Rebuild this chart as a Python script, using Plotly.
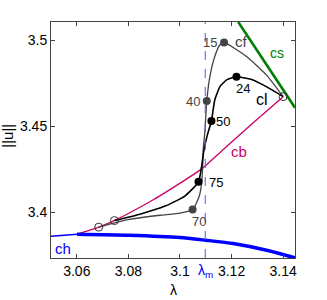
import plotly.graph_objects as go

# ---- data ----
cf_x = [3.0685, 3.0799, 3.0922, 3.1000, 3.1049, 3.1074, 3.1084, 3.1088, 3.1090, 3.1097,
        3.1104, 3.1116, 3.1135, 3.1155, 3.1171, 3.1258, 3.1335, 3.1400]
cf_y = [3.3915, 3.3958, 3.3984, 3.3996, 3.4017, 3.4091, 3.4169, 3.4265, 3.4362, 3.4478,
        3.4647, 3.4788, 3.4905, 3.4973, 3.4986, 3.4905, 3.4798, 3.4672]

cl_x = [3.0746, 3.0845, 3.0942, 3.1019, 3.1072, 3.1083, 3.1093, 3.1106, 3.1122, 3.1135,
        3.1155, 3.1181, 3.1219, 3.1283, 3.1335, 3.1400]
cl_y = [3.3953, 3.3990, 3.4037, 3.4095, 3.4178, 3.4258, 3.4362, 3.4449, 3.4531, 3.4653,
        3.4730, 3.4769, 3.4787, 3.4769, 3.4730, 3.4672]

cb_x = [3.0601, 3.0685, 3.0745, 3.0900, 3.1019, 3.1072, 3.1098, 3.1167, 3.1284, 3.1400]
cb_y = [3.3874, 3.3915, 3.3953, 3.4077, 3.4188, 3.4240, 3.4270, 3.4364, 3.4521, 3.4672]

cs_x = [3.1226, 3.1446]
cs_y = [3.5105, 3.4608]

ch_thin_x = [3.0500, 3.0601]
ch_thin_y = [3.3862, 3.3874]
ch_x = [3.0601, 3.0800, 3.1000, 3.1100, 3.1206, 3.1336, 3.1447]
ch_y = [3.3874, 3.3868, 3.3855, 3.3839, 3.3820, 3.3781, 3.3736]

lambda_m = 3.1098

cf_pts_x = [3.1171, 3.1104, 3.1049]
cf_pts_y = [3.4986, 3.4647, 3.4017]
cf_pts_lbl = ["15", "40", "70"]
cl_pts_x = [3.1219, 3.1122, 3.1072]
cl_pts_y = [3.4787, 3.4531, 3.4178]
cl_pts_lbl = ["24", "50", "75"]
open_x = [3.0685, 3.0746, 3.1400]
open_y = [3.3915, 3.3953, 3.4672]

x_ticks = [3.06, 3.08, 3.10, 3.12, 3.14]
x_ticktext = ["3.06", "3.08", "3.1", "3.12", "3.14"]
y_ticks = [3.40, 3.45, 3.50]
y_ticktext = ["3.4", "3.45", "3.5"]

FONT = "Liberation Sans, Arial, sans-serif"

fig = go.Figure()
fig.add_trace(go.Scatter(x=cb_x, y=cb_y, mode="lines", line=dict(color="#cc0066", width=1.3, shape="spline", smoothing=0.6)))
fig.add_trace(go.Scatter(x=cs_x, y=cs_y, mode="lines", line=dict(color="#008000", width=2.6)))
fig.add_trace(go.Scatter(x=ch_thin_x, y=ch_thin_y, mode="lines", line=dict(color="#0000ff", width=1.5)))
fig.add_trace(go.Scatter(x=ch_x, y=ch_y, mode="lines", line=dict(color="#0000ff", width=3.5, shape="spline", smoothing=0.6)))
fig.add_trace(go.Scatter(x=cf_x, y=cf_y, mode="lines", line=dict(color="#444444", width=1.3, shape="spline", smoothing=0.5)))
fig.add_trace(go.Scatter(x=cl_x, y=cl_y, mode="lines", line=dict(color="#000000", width=1.6, shape="spline", smoothing=0.5)))
fig.add_trace(go.Scatter(x=cf_pts_x, y=cf_pts_y, mode="markers", marker=dict(color="#444444", size=8)))
fig.add_trace(go.Scatter(x=cl_pts_x, y=cl_pts_y, mode="markers", marker=dict(color="#000000", size=8)))
fig.add_trace(go.Scatter(x=open_x, y=open_y, mode="markers",
                         marker=dict(color="rgba(0,0,0,0)", size=8, line=dict(color="#333333", width=1))))

fig.add_shape(type="line", x0=lambda_m, x1=lambda_m, y0=0, y1=1, xref="x", yref="paper",
              line=dict(color="#5555ff", width=1, dash="dash"))

anns = [
    dict(x=3.1205, y=3.4990, text="cf", color="#444444", size=15, xanchor="left"),
    dict(x=3.1152, y=3.4986, text="15", color="#444444", size=13, xanchor="right"),
    dict(x=3.1376, y=3.4926, text="cs", color="#008000", size=14, xanchor="center"),
    dict(x=3.1245, y=3.4717, text="24", color="#000000", size=13, xanchor="center"),
    dict(x=3.1317, y=3.4653, text="cl", color="#000000", size=16, xanchor="center"),
    dict(x=3.1086, y=3.4645, text="40", color="#444444", size=13, xanchor="right"),
    dict(x=3.1168, y=3.4527, text="50", color="#000000", size=13, xanchor="center"),
    dict(x=3.1229, y=3.4352, text="cb", color="#cc0066", size=15, xanchor="center"),
    dict(x=3.1139, y=3.4174, text="75", color="#000000", size=13, xanchor="center"),
    dict(x=3.1075, y=3.3945, text="70", color="#444444", size=13, xanchor="center"),
    dict(x=3.0548, y=3.3791, text="ch", color="#0000ff", size=15, xanchor="center"),
]
for a in anns:
    fig.add_annotation(x=a["x"], y=a["y"], text=a["text"], showarrow=False, xanchor=a["xanchor"],
                       yanchor="middle", font=dict(color=a["color"], size=a["size"], family=FONT))

fig.add_annotation(x=lambda_m, y=0, xref="x", yref="paper", text="λ<sub>m</sub>", showarrow=False,
                   xanchor="center", yanchor="top", yshift=-2, font=dict(color="#0000ff", size=14, family=FONT))
fig.add_annotation(x=0.5, y=0, xref="paper", yref="paper", text="λ", showarrow=False,
                   xanchor="center", yanchor="top", yshift=-22, font=dict(color="#000000", size=14, family=FONT))
fig.add_annotation(x=0, y=0.518, xref="paper", yref="paper", text="||u||", showarrow=False, textangle=-90,
                   xanchor="center", yanchor="middle", xshift=-43, font=dict(color="#000000", size=15, family=FONT))

axis_common = dict(showgrid=False, zeroline=False, showline=True, linecolor="#444444", linewidth=1,
                   mirror="ticks", ticks="inside", ticklen=4, tickcolor="#444444",
                   tickfont=dict(size=14, family=FONT, color="#000000"))
fig.update_xaxes(range=[3.05, 3.1446], tickvals=x_ticks, ticktext=x_ticktext, **axis_common)
fig.update_yaxes(range=[3.3736, 3.5105], tickvals=y_ticks, ticktext=y_ticktext, **axis_common)

fig.update_layout(width=327, height=300, margin=dict(l=51, r=32, t=22, b=42),
                  plot_bgcolor="white", paper_bgcolor="white", showlegend=False)
fig.write_html("out.html", config={"displayModeBar": False},
               post_script="document.body.style.margin='0';")
